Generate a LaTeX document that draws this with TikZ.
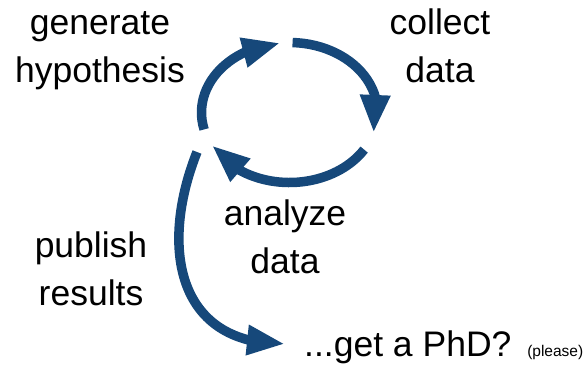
\documentclass[tikz,border=0pt]{standalone}
\usepackage{fontspec}
\setmainfont{Liberation Sans}
\usetikzlibrary{arrows.meta,bending}

\definecolor{cycleblue}{RGB}{22,72,122}

\tikzset{
  cyclelabel/.style={align=center, anchor=base, inner sep=0pt,
    font=\fontsize{35.5}{47.5}\selectfont},
  cyclearrow/.style={draw=cycleblue, line width=9.5pt,
    -{Triangle[length=38pt,width=28pt]}},
}

\begin{document}
\begin{tikzpicture}[x=1pt,y=1pt]
  \useasboundingbox (0,0) rectangle (586,365);

  % Centre of the loop and the free ends
  \coordinate (c) at (289.5,252.5);
  \coordinate (exit) at (197,213);
  \coordinate (tip) at (285,21);

  % The steps (base sits on the last line)
  \node[cyclelabel] (gen) at (100,283) {generate\\hypothesis};
  \node[cyclelabel] (coll) at (440,283) {collect\\data};
  \node[cyclelabel] (anal) at (285,92) {analyze\\data};
  \node[cyclelabel] (pub) at (91,60) {publish\\results};
  \node[cyclelabel, anchor=base west] (phd) at (304,9)
    {...get a PhD?\kern6pt{} {\fontsize{15.5}{18}\selectfont(please)}};

  % The loop
  \draw[cyclearrow] (c) ++(194:88 and 70)
    arc[start angle=194, end angle=96, x radius=88, y radius=70];
  \draw[cyclearrow] (c) ++(88:88 and 70)
    arc[start angle=88, end angle=-17, x radius=88, y radius=70];
  \draw[cyclearrow] (c) ++(-32:88 and 70)
    arc[start angle=-32, end angle=-152, x radius=88, y radius=70];

  % The way out
  \draw[cyclearrow] (exit) .. controls (160,120) and (175,20) .. (tip);
\end{tikzpicture}
\end{document}
